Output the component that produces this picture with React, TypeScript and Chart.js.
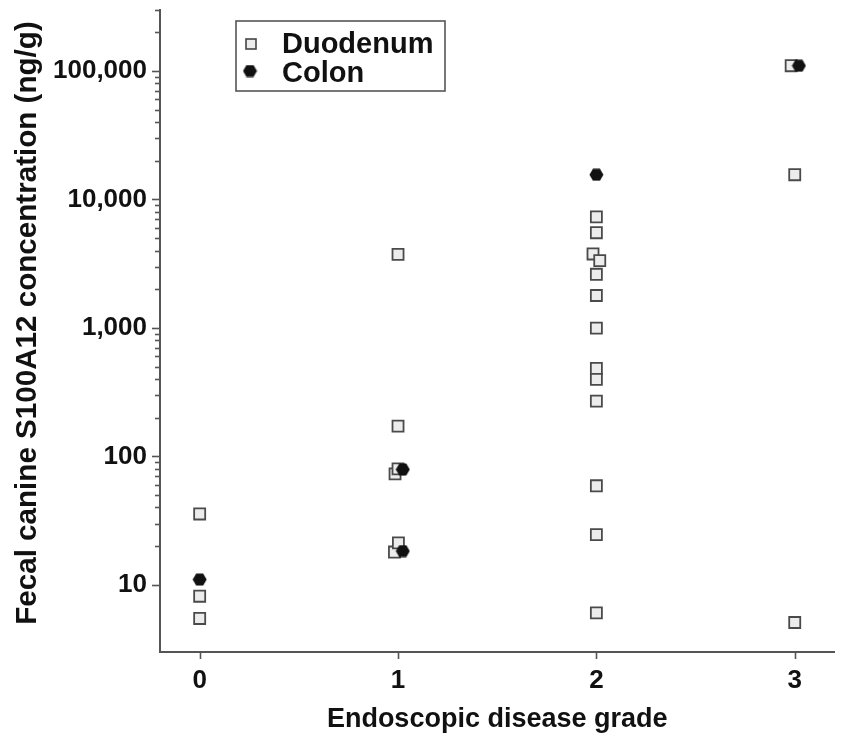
import React, { useEffect, useRef } from "react";
import { Chart, registerables } from "chart.js";

Chart.register(...registerables);

// ---- Data ----
const duodenumGrade = [
  0, 0, 0,
  1, 1, 0.985, 1, 0.982, 1.002,
  2, 2, 1.983, 2.017, 2, 2, 2, 2, 2, 2, 2, 2, 2,
  2.982, 3, 3,
];
const duodenumValue = [
  35.6, 8.15, 5.47,
  3735, 172, 73, 80, 18, 21.2,
  7315, 5500, 3760, 3337, 2612, 1786, 996, 483, 397, 269, 59, 24.6, 6.04,
  109700, 15560, 5.09,
];
const colonGrade = [0, 1.024, 1.024, 2, 3.021];
const colonValue = [11.0, 79, 18.3, 15560, 109700];

const xTickValues = [0, 1, 2, 3];
const yDecades = [10, 100, 1000, 10000, 100000];
const yTopMinor = [200000, 300000];

const xTitle = "Endoscopic disease grade";
const yTitle = "Fecal canine S100A12 concentration (ng/g)";
const seriesNames = ["Duodenum", "Colon"];

const FONT = "'Liberation Sans', Arial, Helvetica, sans-serif";
const AXIS_COLOR = "#555555";

function makeHexagon(): HTMLCanvasElement {
  const c = document.createElement("canvas");
  c.width = 15;
  c.height = 13;
  const g = c.getContext("2d")!;
  g.fillStyle = "#111111";
  g.beginPath();
  g.moveTo(0.5, 6.5);
  g.lineTo(4, 0.5);
  g.lineTo(11, 0.5);
  g.lineTo(14.5, 6.5);
  g.lineTo(11, 12.5);
  g.lineTo(4, 12.5);
  g.closePath();
  g.fill();
  return c;
}

export default function App() {
  const ref = useRef<HTMLCanvasElement | null>(null);

  useEffect(() => {
    if (!ref.current) return;
    const hex = makeHexagon();

    const yTicks: number[] = [];
    yDecades.forEach((d, i) => {
      const last = i === yDecades.length - 1;
      for (let m = 1; m <= (last ? 1 : 9); m++) yTicks.push(d * m);
    });
    yTopMinor.forEach((v) => yTicks.push(v));

    const isMajor = (v: number) => {
      const l = Math.log10(v);
      return Math.abs(l - Math.round(l)) < 1e-9;
    };

    const tickPlugin = {
      id: "customTicksLegend",
      afterDraw(chart: any) {
        const ctx = chart.ctx as CanvasRenderingContext2D;
        const xs = chart.scales.x;
        const ys = chart.scales.y;
        const area = chart.chartArea;
        ctx.save();
        ctx.strokeStyle = AXIS_COLOR;
        ctx.lineWidth = 1.6;
        // y ticks
        ys.ticks.forEach((t: any) => {
          if (t.value < 10) return;
          const p = Math.round(ys.getPixelForValue(t.value)) + 0.5;
          const len = isMajor(t.value) ? 8 : 5;
          ctx.beginPath();
          ctx.moveTo(area.left - len, p);
          ctx.lineTo(area.left, p);
          ctx.stroke();
        });
        // x ticks
        xs.ticks.forEach((t: any) => {
          const p = Math.round(xs.getPixelForValue(t.value)) + 0.5;
          ctx.beginPath();
          ctx.moveTo(p, area.bottom);
          ctx.lineTo(p, area.bottom + 7);
          ctx.stroke();
        });

        // y title
        ctx.save();
        ctx.translate(28, 323);
        ctx.rotate(-Math.PI / 2);
        ctx.fillStyle = "#111111";
        ctx.font = `bold 29.6px ${FONT}`;
        ctx.textAlign = "center";
        ctx.textBaseline = "middle";
        ctx.fillText(yTitle, 0, 0);
        ctx.restore();

        // legend
        const bx = 236, by = 21, bw = 209, bh = 70;
        ctx.lineWidth = 1.6;
        ctx.strokeStyle = AXIS_COLOR;
        ctx.strokeRect(bx, by, bw, bh);
        ctx.fillStyle = "#ececec";
        ctx.strokeStyle = "#444444";
        ctx.lineWidth = 1.6;
        ctx.fillRect(246, 39, 10, 10);
        ctx.strokeRect(246, 39, 10, 10);
        ctx.drawImage(hex, 250 - 7.5, 71 - 6.5);
        ctx.fillStyle = "#111111";
        ctx.font = `bold 29px ${FONT}`;
        ctx.textBaseline = "alphabetic";
        ctx.textAlign = "left";
        ctx.fillText(chart.data.datasets[1].label, 282, 53);
        ctx.fillText(chart.data.datasets[0].label, 282, 82);
        ctx.restore();
      },
    };

    const chart = new Chart(ref.current, {
      type: "scatter",
      data: {
        datasets: [
          {
            label: seriesNames[1],
            data: colonGrade.map((x, i) => ({ x, y: colonValue[i] })),
            pointStyle: hex as any,
            pointRadius: 7,
            backgroundColor: "#111111",
            borderColor: "#111111",
            order: 0,
          },
          {
            label: seriesNames[0],
            data: duodenumGrade.map((x, i) => ({ x, y: duodenumValue[i] })),
            pointStyle: "rect",
            pointRadius: 7.8,
            borderWidth: 1.8,
            backgroundColor: "#ececec",
            borderColor: "#4a4a4a",
            order: 1,
          },
        ],
      },
      options: {
        responsive: false,
        animation: false,
        events: [],
        layout: { padding: { top: 7, right: 9, left: 0, bottom: 0 } },
        plugins: {
          legend: { display: false },
          tooltip: { enabled: false },
        },
        scales: {
          x: {
            type: "linear",
            min: -0.2,
            max: 3.2,
            afterBuildTicks: (scale: any) => {
              scale.ticks = xTickValues.map((v) => ({ value: v }));
            },
            afterFit: (scale: any) => {
              scale.height = 84;
              scale.paddingLeft = 0;
              scale.paddingRight = 0;
            },
            grid: { display: false, drawTicks: false },
            border: { display: true, color: AXIS_COLOR, width: 2 },
            ticks: {
              autoSkip: false,
              maxRotation: 0,
              padding: 13,
              color: "#111111",
              font: { family: FONT, size: 26, weight: "bold" },
              callback: (v: any) => String(v),
            },
            title: {
              display: true,
              text: xTitle,
              color: "#111111",
              font: { family: FONT, size: 27, weight: "bold" },
              padding: { top: 0, bottom: 0 },
            },
          },
          y: {
            type: "logarithmic",
            min: 3,
            max: 300000,
            afterBuildTicks: (scale: any) => {
              scale.ticks = yTicks.map((v) => ({ value: v, major: isMajor(v) }));
            },
            afterFit: (scale: any) => {
              scale.width = 160;
              scale.paddingTop = 0;
              scale.paddingBottom = 0;
            },
            grid: { display: false, drawTicks: false },
            border: { display: true, color: AXIS_COLOR, width: 2 },
            ticks: {
              autoSkip: false,
              padding: 13,
              color: "#111111",
              font: { family: FONT, size: 26, weight: "bold" },
              callback: (v: any) =>
                isMajor(Number(v)) ? Number(v).toLocaleString("en-US") : "",
            },
            title: { display: false, text: yTitle },
          },
        },
      },
      plugins: [tickPlugin],
    });

    return () => chart.destroy();
  }, []);

  return (
    <div style={{ position: "absolute", left: 0, top: 0, width: 844, height: 736, background: "#ffffff" }}>
      <canvas ref={ref} width={844} height={736} />
    </div>
  );
}
